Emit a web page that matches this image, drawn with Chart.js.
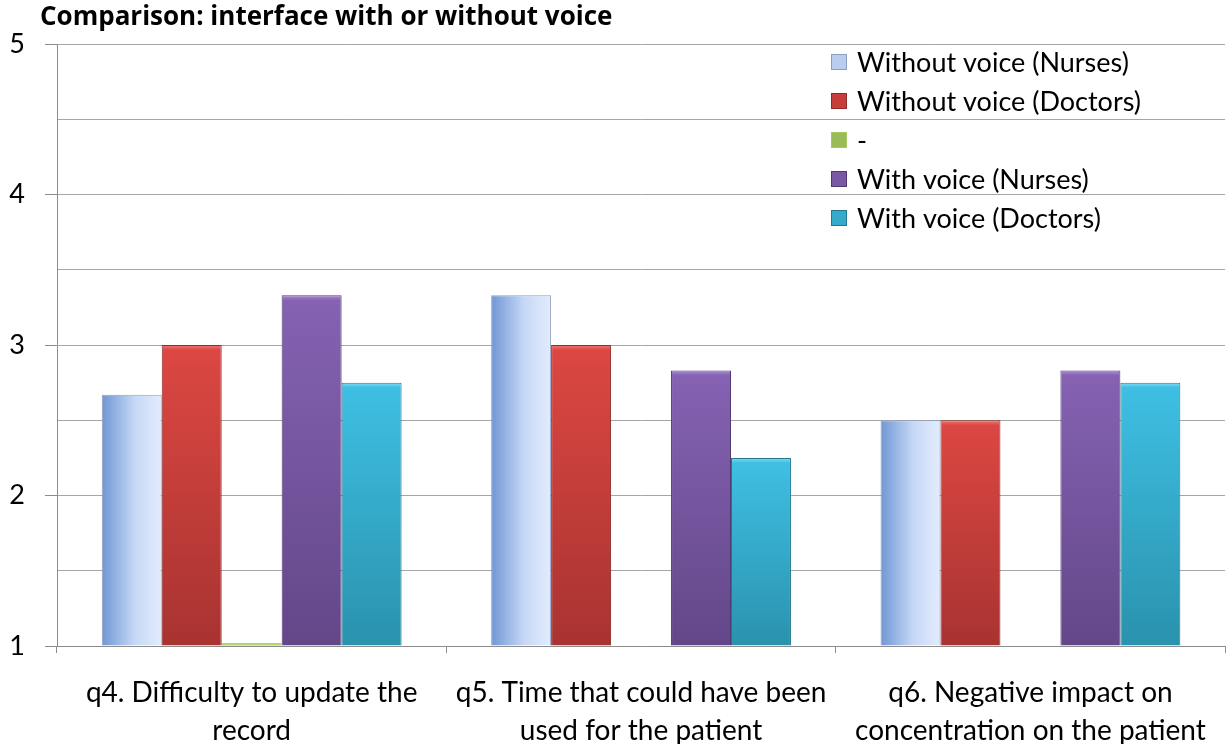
<!DOCTYPE html>
<html>
<head>
<meta charset="utf-8">
<script src="https://cdn.jsdelivr.net/npm/chart.js@4/dist/chart.umd.min.js"></script>
<style>
  html, body { margin: 0; padding: 0; background: #fff; }
  #wrap { width: 1227px; height: 744px; }
</style>
</head>
<body>
<div id="wrap"><canvas id="grafico" width="1227" height="744"></canvas></div>
<script>
// --- datos ---
const titulo = 'Comparison: interface with or without voice';
const categorias = [
    ['q4. Difficulty to update the', 'record'],
    ['q5. Time that could have been', 'used for the patient'],
    ['q6. Negative impact on', 'concentration on the patient']
];
const series = ['Without voice (Nurses)', 'Without voice (Doctors)', '-', 'With voice (Nurses)', 'With voice (Doctors)'];
const sinVozEnfermeras = [2.67, 3.33, 2.5];
const sinVozMedicos = [3.0, 3.0, 2.5];
const guion = [1.0, null, null];
const conVozEnfermeras = [3.33, 2.83, 2.83];
const conVozMedicos = [2.75, 2.25, 2.75];
const yMin = 1, yMax = 5, yPaso = 0.5;

const FUENTE = 'Lato, "Open Sans", sans-serif';
const CAT_PCT = 0.77;

// colores: brillo = bisel superior, a = arriba/izquierda, b = abajo/derecha
const estilos = [
    { a: '#6f96d4', b: '#e3ecfd', borde: '#8d9fbd', ley: '#b9cdf0', horizontal: true },
    { brillo: '#ef7a74', a: '#dc4742', b: '#a83331', borde: '#8c2b29', ley: '#c63d3a' },
    { brillo: '#b3d46f', a: '#b3d46f', b: '#a6c95f', borde: '#a6c95f', ley: '#9bbb59' },
    { brillo: '#aa8ad4', a: '#8562b2', b: '#634789', borde: '#503a72', ley: '#7a58a4' },
    { brillo: '#82ddf5', a: '#3ebfe3', b: '#2a92ad', borde: '#23788f', ley: '#35aacb' }
];

function relleno(c, est) {
    const chart = c.chart;
    if (!chart.chartArea || c.dataIndex === undefined) return est.ley;
    const x = chart.scales.x, y = chart.scales.y;
    const catW = x.width / categorias.length;
    const grupoW = catW * CAT_PCT;
    const bw = grupoW / chart.data.datasets.length;
    const izq = x.getPixelForValue(c.dataIndex) - grupoW / 2 + c.datasetIndex * bw;
    if (est.horizontal) {
        const g = chart.ctx.createLinearGradient(izq, 0, izq + bw, 0);
        g.addColorStop(0, est.a);
        g.addColorStop(0.55, '#c6d8f6');
        g.addColorStop(1, est.b);
        return g;
    }
    const v = c.raw == null ? yMin : c.raw;
    const arriba = y.getPixelForValue(v);
    const abajo = chart.chartArea.bottom;
    const alto = abajo - arriba;
    if (alto < 8) return est.a;
    const g = chart.ctx.createLinearGradient(0, arriba, 0, abajo);
    g.addColorStop(0, est.brillo);
    g.addColorStop(5 / alto, est.a);
    g.addColorStop(1, est.b);
    return g;
}

const valores = [sinVozEnfermeras, sinVozMedicos, guion, conVozEnfermeras, conVozMedicos];
const datasets = series.map((nombre, i) => ({
    label: nombre,
    data: valores[i],
    base: yMin,
    backgroundColor: c => relleno(c, estilos[i]),
    borderColor: estilos[i].borde,
    borderWidth: i === 2 ? 0 : 1,
    minBarLength: i === 2 ? 3 : 0,
    categoryPercentage: CAT_PCT,
    barPercentage: 1
}));

// Título y leyenda dentro del área
const tituloYLeyenda = {
    id: 'tituloYLeyenda',
    afterDraw(chart) {
        const ctx = chart.ctx;
        ctx.save();
        ctx.fillStyle = '#000';
        ctx.textBaseline = 'alphabetic';
        ctx.font = 'bold 26px "Open Sans", Lato, sans-serif';
        ctx.fillText(titulo, 40, 25);

        ctx.font = `27px ${FUENTE}`;
        ctx.textBaseline = 'middle';
        chart.data.datasets.forEach((ds, i) => {
            const cy = 62 + i * 39;
            ctx.fillStyle = estilos[i].ley;
            ctx.fillRect(831, cy - 8, 16, 16);
            ctx.strokeStyle = estilos[i].borde;
            ctx.lineWidth = 1;
            ctx.strokeRect(831.5, cy - 7.5, 15, 15);
            ctx.fillStyle = '#000';
            ctx.fillText(ds.label, 857, cy + 1);
        });
        ctx.restore();
    }
};

new Chart(document.getElementById('grafico').getContext('2d'), {
    type: 'bar',
    data: { labels: categorias, datasets },
    options: {
        responsive: false,
        animation: false,
        devicePixelRatio: 1,
        layout: { padding: { top: 44, right: 1, left: 0, bottom: 0 } },
        plugins: { legend: { display: false }, tooltip: { enabled: false }, title: { display: false } },
        scales: {
            x: {
                afterFit: s => { s.height = 98; },
                grid: { offset: true, drawOnChartArea: false, color: '#8c8c8c', tickLength: 7 },
                border: { color: '#8c8c8c' },
                ticks: { color: '#000', padding: 21, font: { family: FUENTE, size: 28, lineHeight: 1.36 } }
            },
            y: {
                min: yMin, max: yMax,
                afterFit: s => { s.width = 57; },
                grid: {
                    color: '#a6a6a6',
                    tickLength: 12,
                    tickColor: c => (c.tick && Number.isInteger(c.tick.value)) ? '#8c8c8c' : 'rgba(0,0,0,0)'
                },
                border: { color: '#8c8c8c' },
                ticks: {
                    stepSize: yPaso,
                    color: '#000',
                    padding: 20,
                    font: { family: FUENTE, size: 27 },
                    callback: v => Number.isInteger(v) ? String(v) : ''
                }
            }
        }
    },
    plugins: [tituloYLeyenda]
});
</script>
</body>
</html>
